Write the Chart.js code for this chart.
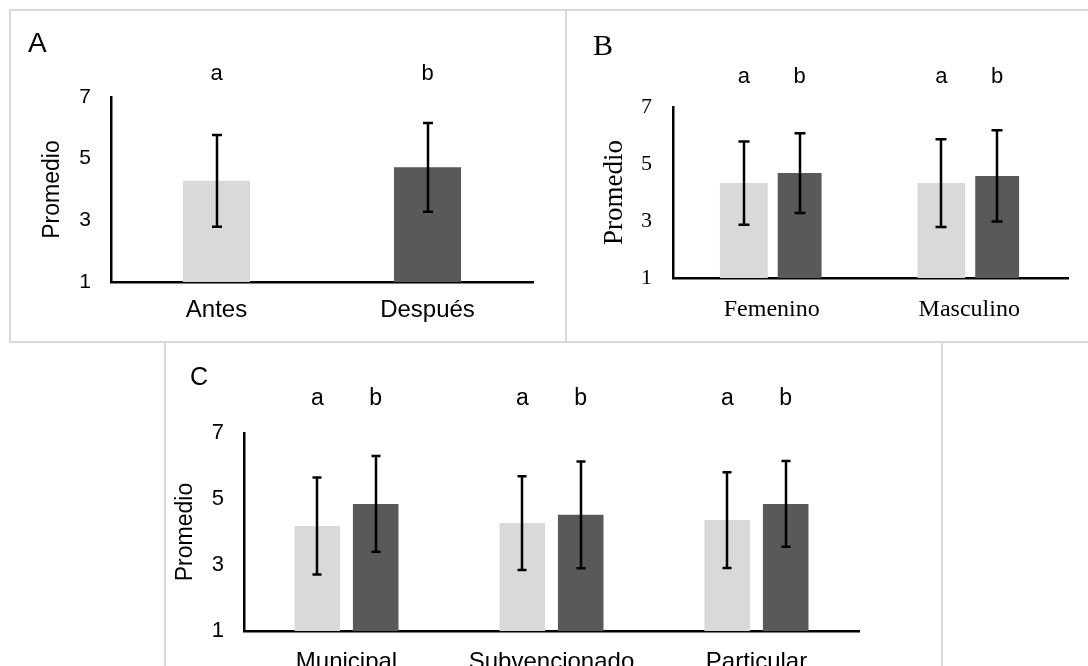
<!DOCTYPE html>
<html><head><meta charset="utf-8">
<script src="https://cdn.jsdelivr.net/npm/chart.js@4.4.1/dist/chart.umd.min.js"></script>
<style>
html,body{margin:0;padding:0;background:#fff;width:1088px;height:666px;overflow:hidden;position:relative;}
.panel{position:absolute;border:2px solid #d9d9d9;box-sizing:border-box;}
canvas{position:absolute;left:0;top:0;}
</style></head><body>
<div class="panel" style="left:9px;top:9px;width:558px;height:334px"></div>
<div class="panel" style="left:565px;top:9px;width:540px;height:334px"></div>
<div class="panel" style="left:164px;top:341px;width:779px;height:340px"></div>
<canvas id="cA" width="1088" height="666"></canvas>
<canvas id="cB" width="1088" height="666"></canvas>
<canvas id="cC" width="1088" height="666"></canvas>
<script>
// ---- Data ----
const yTicks = [1, 3, 5, 7];

const catA = ['Antes', 'Después'];
const meanA = [4.28, 4.72];
const sdA = [1.49, 1.44];
const letA = ['a', 'b'];

const catB = ['Femenino', 'Masculino'];
const antesB = [4.33, 4.33];
const antesSdB = [1.46, 1.54];
const despuesB = [4.68, 4.58];
const despuesSdB = [1.40, 1.60];

const catC = ['Municipal', 'Subvencionado', 'Particular'];
const antesC = [4.18, 4.27, 4.36];
const antesSdC = [1.47, 1.42, 1.45];
const despuesC = [4.85, 4.52, 4.85];
const despuesSdC = [1.45, 1.62, 1.30];

const LIGHT = '#d9d9d9', DARK = '#595959';
const SANS = '"Liberation Sans", Arial, sans-serif';
const SERIF = '"Liberation Serif", "Times New Roman", serif';

const errPlugin = {
  id: 'errbars',
  afterDatasetsDraw(chart) {
    const ctx = chart.ctx, ys = chart.scales.y;
    const cap = chart.options.plugins.errbars.cap;
    ctx.save();
    ctx.strokeStyle = '#000';
    ctx.lineWidth = 2.5;
    chart.data.datasets.forEach((ds, i) => {
      const meta = chart.getDatasetMeta(i);
      meta.data.forEach((el, j) => {
        const v = ds.data[j], e = ds.sd[j];
        const x = Math.round(el.x);
        const y1 = ys.getPixelForValue(v + e), y2 = ys.getPixelForValue(v - e);
        ctx.beginPath();
        ctx.moveTo(x, y1); ctx.lineTo(x, y2);
        ctx.moveTo(x - cap / 2, y1); ctx.lineTo(x + cap / 2, y1);
        ctx.moveTo(x - cap / 2, y2); ctx.lineTo(x + cap / 2, y2);
        ctx.stroke();
      });
    });
    ctx.restore();
  }
};

const textPlugin = {
  id: 'texts',
  afterDraw(chart) {
    const o = chart.options.plugins.texts;
    const ctx = chart.ctx;
    ctx.save();
    ctx.fillStyle = '#000';
    ctx.textBaseline = 'alphabetic';
    ctx.textAlign = 'left';
    ctx.font = o.panelFont;
    ctx.fillText(o.panel, o.px, o.py);
    ctx.textAlign = 'center';
    ctx.font = o.letterFont;
    chart.data.datasets.forEach((ds, i) => {
      const meta = chart.getDatasetMeta(i);
      meta.data.forEach((el, j) => {
        ctx.fillText(ds.letters[j], el.x, o.ly);
      });
    });
    ctx.restore();
  }
};

function makeChart(id, c) {
  return new Chart(document.getElementById(id), {
    type: 'bar',
    data: { labels: c.labels, datasets: c.datasets },
    options: {
      responsive: false, animation: false, events: [],
      layout: { autoPadding: false, padding: { left: 0, top: c.top, right: 1088 - c.right, bottom: 0 } },
      plugins: {
        legend: { display: false }, tooltip: { enabled: false },
        errbars: { cap: c.cap },
        texts: c.texts
      },
      scales: {
        x: {
          grid: { display: false, drawTicks: false },
          border: { display: true, color: '#000', width: 2.5 },
          ticks: { font: c.xFont, color: '#000', padding: c.xPad, maxRotation: 0, autoSkip: false },
          afterFit: s => { s.height = 666 - c.bottom; }
        },
        y: {
          min: 1, max: 7,
          afterBuildTicks: s => { s.ticks = yTicks.map(v => ({ value: v })); },
          grid: { display: false, drawTicks: false },
          border: { display: true, color: '#000', width: 2.5 },
          ticks: { font: c.yFont, color: '#000', padding: c.yPad },
          title: { display: true, text: 'Promedio', color: '#000', font: c.titleFont, padding: { top: c.titlePad, bottom: 0 } },
          afterFit: s => { s.width = c.left; }
        }
      }
    },
    plugins: [errPlugin, textPlugin]
  });
}

// Panel A
makeChart('cA', {
  labels: catA,
  datasets: [{ data: meanA, sd: sdA, letters: letA, backgroundColor: [LIGHT, DARK],
    categoryPercentage: 1, barPercentage: 0.318 }],
  left: 111, right: 533, top: 97, bottom: 282, cap: 10,
  xFont: { family: SANS, size: 24 }, xPad: 14,
  yFont: { family: SANS, size: 21 }, yPad: 20,
  titleFont: { family: SANS, size: 23 }, titlePad: 39,
  texts: { panel: 'A', panelFont: '28px ' + SANS, px: 28, py: 52, letterFont: '22px ' + SANS, ly: 80 }
});

// Panel B
makeChart('cB', {
  labels: catB,
  datasets: [
    { data: antesB, sd: antesSdB, letters: ['a', 'a'], backgroundColor: LIGHT, categoryPercentage: 0.565, barPercentage: 0.857 },
    { data: despuesB, sd: despuesSdB, letters: ['b', 'b'], backgroundColor: DARK, categoryPercentage: 0.565, barPercentage: 0.786 }
  ],
  left: 673, right: 1068, top: 107, bottom: 278, cap: 11,
  xFont: { family: SERIF, size: 24 }, xPad: 17,
  yFont: { family: SERIF, size: 22 }, yPad: 21,
  titleFont: { family: SERIF, size: 27 }, titlePad: 599,
  texts: { panel: 'B', panelFont: '30px ' + SERIF, px: 593, py: 55, letterFont: '22px ' + SANS, ly: 83 }
});

// Panel C
makeChart('cC', {
  labels: catC,
  datasets: [
    { data: antesC, sd: antesSdC, letters: ['a', 'a', 'a'], backgroundColor: LIGHT, categoryPercentage: 0.57, barPercentage: 0.78 },
    { data: despuesC, sd: despuesSdC, letters: ['b', 'b', 'b'], backgroundColor: DARK, categoryPercentage: 0.57, barPercentage: 0.78 }
  ],
  left: 244, right: 859, top: 433, bottom: 631, cap: 9,
  xFont: { family: SANS, size: 24 }, xPad: 17,
  yFont: { family: SANS, size: 22 }, yPad: 20,
  titleFont: { family: SANS, size: 23 }, titlePad: 172,
  texts: { panel: 'C', panelFont: '25px ' + SANS, px: 190, py: 385, letterFont: '23px ' + SANS, ly: 405 }
});
</script>
</body></html>
